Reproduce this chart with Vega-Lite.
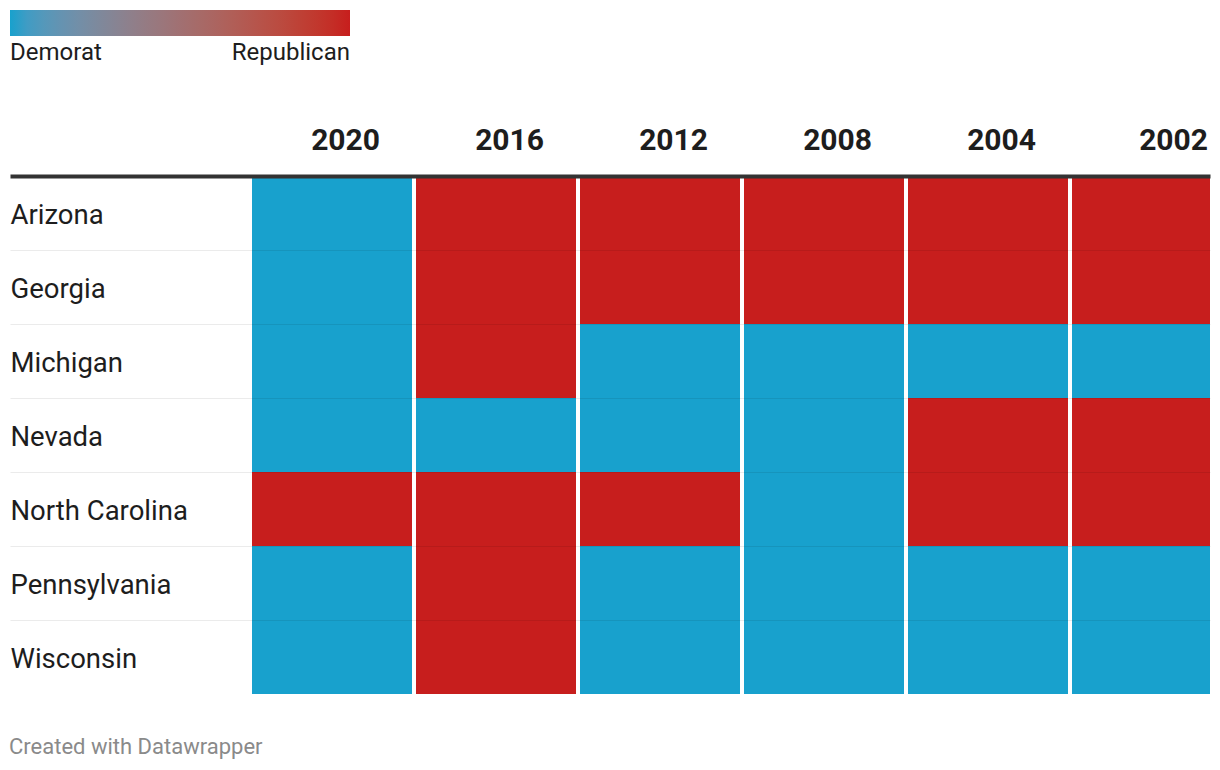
{
  "$schema": "https://vega.github.io/schema/vega-lite/v6.json",
  "width": 1200,
  "height": 518,
  "autosize": {"type": "none"},
  "padding": {"left": 10, "top": 176, "right": 10, "bottom": 76},
  "background": "white",
  "config": {"font": "Roboto", "view": {"stroke": null}},
  "title": {"text": "Created with Datawrapper", "orient": "bottom", "anchor": "start", "fontSize": 22, "fontWeight": "normal", "color": "#8a8a8a", "baseline": "alphabetic", "offset": 59, "dx": 1},
  "data": {"values": [
    {"state": "Arizona", "year": "2020", "party": "Democrat", "rep": 0},
    {"state": "Arizona", "year": "2016", "party": "Republican", "rep": 1},
    {"state": "Arizona", "year": "2012", "party": "Republican", "rep": 1},
    {"state": "Arizona", "year": "2008", "party": "Republican", "rep": 1},
    {"state": "Arizona", "year": "2004", "party": "Republican", "rep": 1},
    {"state": "Arizona", "year": "2002", "party": "Republican", "rep": 1},
    {"state": "Georgia", "year": "2020", "party": "Democrat", "rep": 0},
    {"state": "Georgia", "year": "2016", "party": "Republican", "rep": 1},
    {"state": "Georgia", "year": "2012", "party": "Republican", "rep": 1},
    {"state": "Georgia", "year": "2008", "party": "Republican", "rep": 1},
    {"state": "Georgia", "year": "2004", "party": "Republican", "rep": 1},
    {"state": "Georgia", "year": "2002", "party": "Republican", "rep": 1},
    {"state": "Michigan", "year": "2020", "party": "Democrat", "rep": 0},
    {"state": "Michigan", "year": "2016", "party": "Republican", "rep": 1},
    {"state": "Michigan", "year": "2012", "party": "Democrat", "rep": 0},
    {"state": "Michigan", "year": "2008", "party": "Democrat", "rep": 0},
    {"state": "Michigan", "year": "2004", "party": "Democrat", "rep": 0},
    {"state": "Michigan", "year": "2002", "party": "Democrat", "rep": 0},
    {"state": "Nevada", "year": "2020", "party": "Democrat", "rep": 0},
    {"state": "Nevada", "year": "2016", "party": "Democrat", "rep": 0},
    {"state": "Nevada", "year": "2012", "party": "Democrat", "rep": 0},
    {"state": "Nevada", "year": "2008", "party": "Democrat", "rep": 0},
    {"state": "Nevada", "year": "2004", "party": "Republican", "rep": 1},
    {"state": "Nevada", "year": "2002", "party": "Republican", "rep": 1},
    {"state": "North Carolina", "year": "2020", "party": "Republican", "rep": 1},
    {"state": "North Carolina", "year": "2016", "party": "Republican", "rep": 1},
    {"state": "North Carolina", "year": "2012", "party": "Republican", "rep": 1},
    {"state": "North Carolina", "year": "2008", "party": "Democrat", "rep": 0},
    {"state": "North Carolina", "year": "2004", "party": "Republican", "rep": 1},
    {"state": "North Carolina", "year": "2002", "party": "Republican", "rep": 1},
    {"state": "Pennsylvania", "year": "2020", "party": "Democrat", "rep": 0},
    {"state": "Pennsylvania", "year": "2016", "party": "Republican", "rep": 1},
    {"state": "Pennsylvania", "year": "2012", "party": "Democrat", "rep": 0},
    {"state": "Pennsylvania", "year": "2008", "party": "Democrat", "rep": 0},
    {"state": "Pennsylvania", "year": "2004", "party": "Democrat", "rep": 0},
    {"state": "Pennsylvania", "year": "2002", "party": "Democrat", "rep": 0},
    {"state": "Wisconsin", "year": "2020", "party": "Democrat", "rep": 0},
    {"state": "Wisconsin", "year": "2016", "party": "Republican", "rep": 1},
    {"state": "Wisconsin", "year": "2012", "party": "Democrat", "rep": 0},
    {"state": "Wisconsin", "year": "2008", "party": "Democrat", "rep": 0},
    {"state": "Wisconsin", "year": "2004", "party": "Democrat", "rep": 0},
    {"state": "Wisconsin", "year": "2002", "party": "Democrat", "rep": 0}
  ]},
  "mark": {"type": "rect", "clip": true},
  "encoding": {
    "x": {
      "field": "year", "type": "nominal",
      "sort": ["2020", "2016", "2012", "2008", "2004", "2002"],
      "scale": {"range": [240, 1224], "paddingInner": 0.02439, "paddingOuter": 0.012195},
      "axis": {
        "orient": "top", "title": null, "domain": false, "ticks": false, "grid": false,
        "labelAngle": 0, "labelFontSize": 30, "labelFontWeight": "bold", "labelColor": "#1d1d1d",
        "labelAlign": "right", "labelBaseline": "alphabetic", "labelPadding": 27,
        "labelOffset": {"condition": {"test": "datum.value == '2002'", "value": 56}, "value": 48}
      }
    },
    "y": {
      "field": "state", "type": "nominal", "sort": null,
      "scale": {"paddingInner": 0, "paddingOuter": 0},
      "axis": {
        "title": null, "domain": false, "grid": false, "tickBand": "extent",
        "tickSize": -1200, "labelPadding": 1200, "labelAlign": "left", "labelBaseline": "middle",
        "labelOffset": 2,
        "labelFontSize": 27.5, "labelColor": "#1d1d1d", "labelLimit": 400, "zindex": 1,
        "tickColor": {"condition": [
          {"test": "datum.index < 0", "value": "#333333"},
          {"test": "datum.value === 'Wisconsin'", "value": "rgba(0,0,0,0)"}
        ], "value": "rgba(0,0,0,0.08)"},
        "tickWidth": {"condition": {"test": "datum.index < 0", "value": 4}, "value": 1}
      }
    },
    "color": {
      "field": "rep", "type": "quantitative",
      "scale": {"domain": [0, 1], "range": ["#18a1cd", "#c71e1d"], "interpolate": "lab"},
      "legend": {
        "orient": "none", "legendX": 0, "legendY": -166, "direction": "horizontal", "title": null,
        "gradientLength": 340, "gradientThickness": 26, "gradientStrokeWidth": 0,
        "values": [0, 1], "labelExpr": "datum.value < 0.5 ? 'Demorat' : 'Republican'",
        "labelFontSize": 24, "labelColor": "#1d1d1d", "labelOffset": 5, "padding": 0
      }
    }
  }
}
